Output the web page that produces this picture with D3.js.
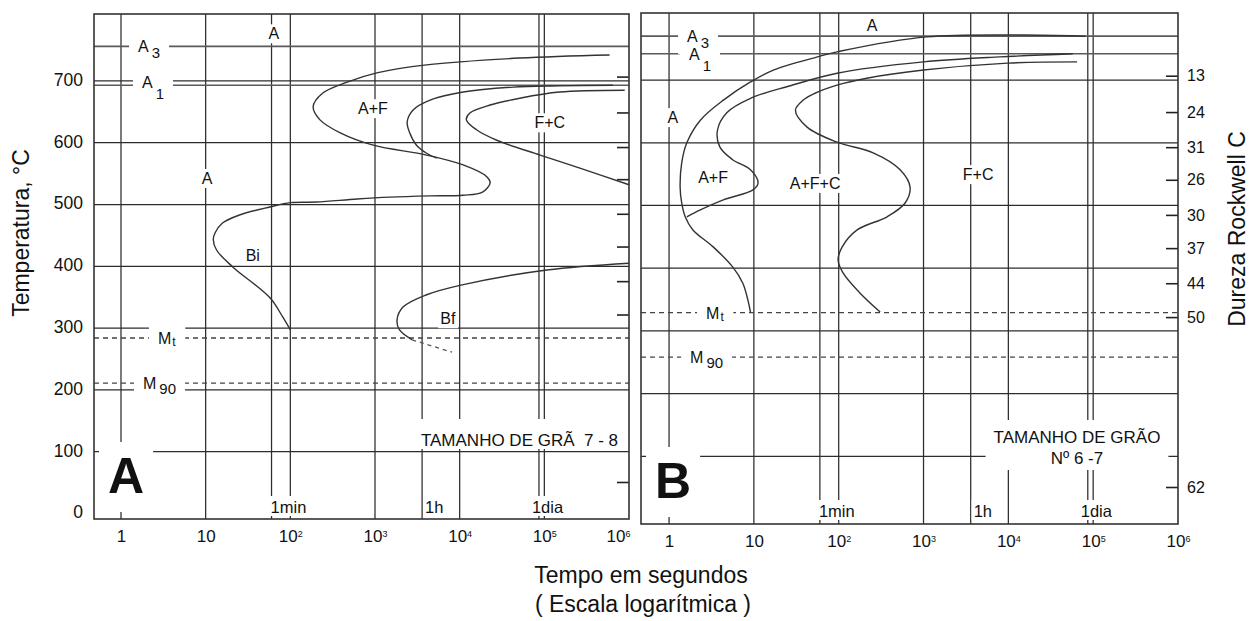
<!DOCTYPE html>
<html>
<head>
<meta charset="utf-8">
<script src="https://cdn.jsdelivr.net/npm/d3@7"></script>
<style>
  body { margin: 0; background: #fff; }
  text { font-family: "Liberation Sans", Arial, Helvetica, sans-serif; fill: #111; white-space: pre; }
</style>
</head>
<body>
<svg id="chart"></svg>
<script>
const width = 1259;
const height = 621;

// eixos comuns
const decades = [1, 10, 100, 1000, 1e4, 1e5, 1e6];
const tempTicks = [0, 100, 200, 300, 400, 500, 600, 700];
const gridTemps = [100, 200, 300, 400, 500, 600, 700];
const timeMarks = [60, 3600, 86400];
const timeMarkNames = ['1min', '1h', '1dia'];
const timeMarkLabelAt = [95, 5000, 1.09e5];
const hardness = ['13', '24', '31', '26', '30', '37', '44', '50', '62'];
const hardnessTemp = [707, 649, 593, 541, 485, 432, 376, 322, 51];

// diagrama A - tamanho de grao 7-8  ([tempo s, temperatura C])
const critA = { A3: 756, A1: 693, Ms: 284, M90: 211 };
const startA = [[5.9e5, 742], [5.1e4, 737], [4070, 726], [1050, 713], [468, 698], [240, 680], [186, 658],
  [224, 637], [389, 616], [955, 596], [4070, 580], [1.1e4, 564], [2.09e4, 545], [2.29e4, 535],
  [1.86e4, 520], [1.1e4, 515], [4470, 514], [1510, 512], [617, 509], [204, 504], [100, 503],
  [57.5, 496], [25.1, 483], [15.8, 470], [12.9, 454], [12.3, 443], [13.5, 426], [20.9, 399],
  [57.5, 349], [81.3, 318], [100, 297]];
const ferriteEndA = [[6.45e5, 693], [1.51e5, 692], [4.27e4, 690], [1.1e4, 682], [4470, 669], [2820, 653],
  [2400, 634], [2570, 616], [3090, 596], [4070, 583], [5370, 575]];
const pearliteA = [[8.9e5, 685], [1.51e5, 682], [5.13e4, 672], [2.29e4, 661], [1.32e4, 648], [1.2e4, 637],
  [1.58e4, 621], [2.75e4, 604], [8.91e4, 580], [2.63e5, 559], [1e6, 532]];
const bainiteEndA = [[1e6, 405], [1.07e5, 394], [1.07e4, 370], [4070, 354], [2140, 334], [1820, 313],
  [1950, 297], [2750, 281]];
const bainiteEndDashA = [[2750, 281], [8130, 261]];
const regionsA = [['A', 64, 777], ['A', 10.4, 543], ['A+F', 944, 656], ['F+C', 1.16e5, 633],
  ['Bi', 36, 418], ['Bf', 7240, 316]];

// diagrama B - tamanho de grao 6-7
const critB = { A3: 770, A1: 742, Ms: 329, M90: 258 };
const startB = [[8.05e4, 770], [1100, 769], [95.5, 745], [56.2, 737], [17, 716], [9.12, 697], [4.37, 668],
  [2.34, 636], [1.62, 600], [1.41, 568], [1.35, 530], [1.41, 504], [1.55, 482], [1.91, 461],
  [3.31, 434], [5.62, 402], [7.41, 376], [8.51, 349], [9.12, 330]];
const ferriteEndB = [[5.75e4, 742], [7940, 737], [1000, 729], [95.5, 711], [26.9, 691], [9.12, 671],
  [4.79, 648], [3.72, 620], [3.98, 593], [5.62, 573], [9.12, 557], [11.2, 536], [9.77, 525],
  [4.37, 509], [2.34, 493], [1.62, 482]];
const pearliteB = [[6.46e4, 729], [9800, 727], [1000, 716], [214, 703], [95.5, 692], [52.5, 679], [38, 668],
  [30.9, 652], [42.4, 625], [95.5, 601], [255, 584], [530, 557], [695, 529], [607, 504], [372, 482],
  [165, 461], [110, 434], [98.4, 413], [113, 392], [179, 360], [308, 330]];
const regionsB = [['A', 248, 788], ['A', 1.11, 641], ['A+F', 3.3, 545], ['A+F+C', 52.7, 536], ['F+C', 4400, 550]];

const panels = [
  { name: 'A', left: 94, right: 629, top: 14, bottom: 519, tMin: 0.48, tempLo: -8.9, tempHi: 808.3,
    crit: critA, curves: [startA, ferriteEndA, pearliteA, bainiteEndA], dashed: [bainiteEndDashA],
    regions: regionsA, critLabelAt: [1.59, 1.77, 2.73, 1.82], a1Shift: -3,
    grain: ['TAMANHO DE GRÃ  7 - 8'], leftAxis: true, hardLabels: false, markY: 513, lastTickShift: -11 },
  { name: 'B', left: 641, right: 1178, top: 13, bottom: 524, tMin: 0.467, tempLo: -8, tempHi: 807,
    crit: critB, curves: [startB, ferriteEndB, pearliteB], dashed: [],
    regions: regionsB, critLabelAt: [1.63, 1.72, 2.73, 1.77], a1Shift: 0,
    grain: ['TAMANHO DE GRÃO', 'Nº 6 -7'], leftAxis: false, hardLabels: true, markY: 517, lastTickShift: 0 }
];

const svg = d3.select('#chart').attr('width', width).attr('height', height);
svg.append('rect').attr('width', width).attr('height', height).attr('fill', '#fff');

panels.forEach(drawPanel);

// titulos dos eixos
svg.append('text')
    .attr('transform', 'translate(29,233) rotate(-90)')
    .attr('text-anchor', 'middle').attr('font-size', 23)
    .text('Temperatura, °C');
svg.append('text')
    .attr('transform', 'translate(1245,229) rotate(-90)')
    .attr('text-anchor', 'middle').attr('font-size', 23)
    .text('Dureza Rockwell C');
svg.append('text')
    .attr('x', 641).attr('y', 583)
    .attr('text-anchor', 'middle').attr('font-size', 23)
    .text('Tempo em segundos');
svg.append('text')
    .attr('x', 643).attr('y', 612)
    .attr('text-anchor', 'middle').attr('font-size', 23)
    .text('( Escala logarítmica )');

function drawPanel(p) {
  const x = d3.scaleLog().domain([p.tMin, 1e6]).range([p.left, p.right]);
  const y = d3.scaleLinear().domain([p.tempLo, p.tempHi]).range([p.bottom, p.top]);
  const g = svg.append('g');

  // grade
  const grid = g.append('g').attr('stroke', '#2c2c2c').attr('stroke-width', 1.25);
  grid.selectAll('line.h').data(gridTemps).enter().append('line')
      .attr('class', 'h')
      .attr('x1', p.left).attr('x2', p.right)
      .attr('y1', d => y(d)).attr('y2', d => y(d));
  grid.selectAll('line.v').data(decades.slice(0, -1).concat(timeMarks)).enter().append('line')
      .attr('class', 'v')
      .attr('x1', d => x(d)).attr('x2', d => x(d))
      .attr('y1', p.top).attr('y2', p.bottom);

  // linhas criticas
  const crit = g.append('g');
  crit.selectAll('line.c').data([p.crit.A3, p.crit.A1]).enter().append('line')
      .attr('x1', p.left).attr('x2', p.right)
      .attr('y1', d => y(d)).attr('y2', d => y(d))
      .attr('stroke', '#5a5a5a').attr('stroke-width', 1.7);
  crit.selectAll('line.m').data([p.crit.Ms, p.crit.M90]).enter().append('line')
      .attr('x1', p.left).attr('x2', p.right)
      .attr('y1', d => y(d)).attr('y2', d => y(d))
      .attr('stroke', '#444').attr('stroke-width', 1.3)
      .attr('stroke-dasharray', '5,4');

  // escala de dureza (marcas no lado direito)
  const hard = g.append('g')
      .attr('transform', `translate(${p.right},0)`)
      .call(d3.axisRight(y).tickValues(hardnessTemp)
        .tickSize(-12).tickPadding(9)
        .tickFormat((d, i) => p.hardLabels ? hardness[i] : ''));
  hard.select('.domain').remove();
  hard.attr('font-size', 16).attr('font-family', null).attr('color', '#222');
  hard.selectAll('line').attr('stroke-width', 1.6);

  // eixo x
  const ax = g.append('g')
      .attr('transform', `translate(0,${p.bottom})`)
      .call(d3.axisBottom(x).tickValues(decades).tickSize(0).tickPadding(11)
        .tickFormat(d => d < 100 ? String(d) : '10'));
  ax.select('.domain').remove();
  ax.attr('font-size', 17).attr('font-family', null);
  ax.selectAll('.tick text').each(function (d) {
    if (d >= 100) {
      d3.select(this).append('tspan')
          .attr('dy', '-0.55em').attr('font-size', 9)
          .text(Math.round(Math.log10(d)));
    }
    if (d === 1e6) d3.select(this).attr('dx', p.lastTickShift);
  });

  if (p.leftAxis) {
    const ay = g.append('g')
        .attr('transform', `translate(${p.left},0)`)
        .call(d3.axisLeft(y).tickValues(tempTicks).tickSize(0).tickPadding(11));
    ay.select('.domain').remove();
    ay.attr('font-size', 17.5).attr('font-family', null);
    ay.selectAll('.tick text').attr('dy', '0.25em');
  }

  const bgLayer = g.append('g');
  const curveLayer = g.append('g');
  const textLayer = g.append('g');
  const boxes = [];

  // curvas TTT
  const line = d3.line()
      .x(d => x(d[0])).y(d => y(d[1]))
      .curve(d3.curveCatmullRom.alpha(0.5));
  curveLayer.selectAll('path.curve').data(p.curves).enter().append('path')
      .attr('d', line)
      .attr('fill', 'none').attr('stroke', '#333').attr('stroke-width', 1.4);
  curveLayer.selectAll('path.dash').data(p.dashed).enter().append('path')
      .attr('d', line)
      .attr('fill', 'none').attr('stroke', '#555').attr('stroke-width', 1.3)
      .attr('stroke-dasharray', '4,4');

  // rotulos das linhas criticas
  const critNames = [['A', '3', p.crit.A3, 6, 0], ['A', '1', p.crit.A1, 11, p.a1Shift],
    ['M', 't', p.crit.Ms, 2, 0], ['M', '90', p.crit.M90, 5, 0]];
  critNames.forEach((c, i) => {
    const t = textLayer.append('text')
        .attr('x', x(p.critLabelAt[i])).attr('y', y(c[2]) + c[4] + 6)
        .attr('font-size', 16);
    t.append('tspan').text(c[0]);
    t.append('tspan').attr('dy', c[3]).attr('dx', c[1] === 't' ? 1 : 3)
        .attr('font-size', c[1] === 't' ? 12 : 15).text(c[1]);
    boxes.push([t, 9, 3, 3]);
  });

  // regioes
  p.regions.forEach(r => {
    const t = textLayer.append('text')
        .attr('x', x(r[1])).attr('y', y(r[2]) + 6)
        .attr('text-anchor', 'middle').attr('font-size', 16)
        .text(r[0]);
    boxes.push([t, 2, 1, 1]);
  });

  // marcas de tempo
  timeMarkNames.forEach((name, i) => {
    const t = textLayer.append('text')
        .attr('x', x(timeMarkLabelAt[i])).attr('y', p.markY)
        .attr('text-anchor', 'middle').attr('font-size', 16.5)
        .text(name);
    boxes.push([t, 2, 2, 0]);
  });

  // letra do painel
  const big = textLayer.append('text')
      .attr('x', p.left + 14).attr('y', p.bottom - 26)
      .attr('font-size', 50).attr('font-weight', 'bold')
      .text(p.name);
  boxes.push([big, 9, 6, 8]);

  // tamanho de grao
  const grain = textLayer.append('text').attr('font-size', 17);
  if (p.grain.length === 1) {
    grain.attr('x', p.right - 11).attr('y', p.bottom - 73)
        .attr('text-anchor', 'end').text(p.grain[0]);
    boxes.push([grain, 4, 12, -1]);
  } else {
    const cx = p.right - 101;
    grain.attr('text-anchor', 'middle');
    p.grain.forEach((s, i) => {
      grain.append('tspan').attr('x', cx).attr('y', p.bottom - 81 + i * 21).text(s);
    });
    boxes.push([grain, 8, 8, 2]);
  }

  // fundos brancos atras dos textos (interrompem a grade)
  boxes.forEach(([t, px, pt, pb]) => {
    const b = t.node().getBBox();
    bgLayer.append('rect')
        .attr('x', b.x - px).attr('y', b.y - pt)
        .attr('width', b.width + 2 * px).attr('height', b.height + pt + pb)
        .attr('fill', '#fff');
  });

  // moldura
  g.append('rect')
      .attr('x', p.left).attr('y', p.top)
      .attr('width', p.right - p.left).attr('height', p.bottom - p.top)
      .attr('fill', 'none').attr('stroke', '#333').attr('stroke-width', 1.6);
}
</script>
</body>
</html>
